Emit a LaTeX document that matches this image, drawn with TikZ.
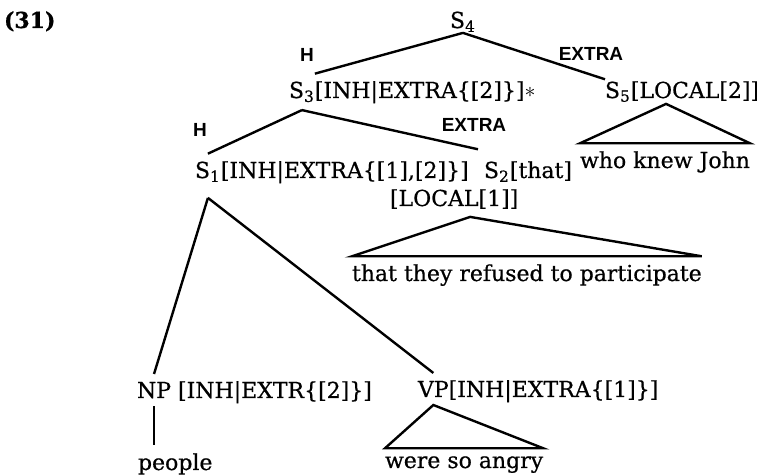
\documentclass[tikz,border=0pt]{standalone}
\usepackage{fontspec}
\setmainfont{DejaVu Serif}[FakeBold=0.6]
\setsansfont{Liberation Sans}
\usetikzlibrary{positioning}
\tikzset{every node/.style={font=\fontsize{11}{13}\selectfont}}
\colorlet{treecol}{black}

\begin{document}
\begin{tikzpicture}[x=0.5pt, y=-0.5pt,
  cat/.style={inner sep=0pt, outer xsep=0pt, outer ysep=4pt, anchor=base west},
  feat/.style={inner sep=0pt, outer sep=0pt, anchor=base west},
  arclab/.style={inner sep=0pt, font=\fontsize{9.5}{10}\selectfont\sffamily\bfseries},
  branch/.style={treecol, line width=1.2pt}]

  \useasboundingbox (0,0) rectangle (757,476);

  % Example number.
  \node[feat, font=\fontsize{11}{13}\selectfont\bfseries] (exnum) at (4,28) {(31)};

  % Root.
  \node[cat, outer ysep=0.5pt] (s4) at (450,28) {S\textsubscript{4}};

  % Head daughter S3 and extraposed S5.
  \node[cat] (s3) at (289,98) {S\textsubscript{3}};
  \node[feat] (s3f) at (s3.base east) {[INH|EXTRA\{[2]\}]$\ast$};
  \node[cat, outer ysep=1pt] (s5) at (605,98) {S\textsubscript{5}[LOCAL[2]]};
  \node[cat] (who) at (580,168) {who knew John};

  % Head daughter S1 and extraposed S2.
  \node[cat] (s1) at (195,178) {S\textsubscript{1}};
  \node[feat] (s1f) at (s1.base east) {[INH|EXTRA\{[1],[2]\}]};
  \node[cat] (s2) at (484,178) {S\textsubscript{2}[that]};
  \node[cat] (local1) at (390,206) {[LOCAL[1]]};
  \node[cat] (refused) at (352,281) {that they refused to participate};
  \coordinate (s1foot) at ([yshift=-4pt]s1.south);

  % NP and VP.
  \node[cat] (np) at (137,398) {NP};
  \node[feat] (npf) at (np.base east) {\ [INH|EXTR\{[2]\}]};
  \node[cat] (vp) at (418,397) {VP};
  \node[feat] (vpf) at (vp.base east) {[INH|EXTRA\{[1]\}]};
  \node[cat] (people) at (138,470) {people};
  \node[cat] (angry) at (385,468) {were so angry};

  % Branch labels.
  \node[arclab] (h1) at (307,55) {H};
  \node[arclab] (x1) at (591,54) {EXTRA};
  \node[arclab] (h2) at (200,130) {H};
  \node[arclab] (x2) at (474,125) {EXTRA};

  % Branches.
  \draw[branch] (s4.south) -- (s3.north east);
  \draw[branch] (s4.south) -- (s5.north west);
  \draw[branch] (s3.south) -- (s1.north);
  \draw[branch] (s3.south) -- ([xshift=-3pt, yshift=2pt]s2.north west);
  \draw[branch] (s1foot) -- (np.north);
  \draw[branch] (s1foot) -- (vp.north);
  \draw[branch] (np.south) -- (np.south |- people.north);

  % Triangles.
  \draw[branch] ([xshift=-8pt]s5.south) -- (who.north west) -- (who.north east) -- cycle;
  \draw[branch] ([xshift=8pt]local1.south) -- (refused.north west) -- (refused.north east) -- cycle;
  \draw[branch] (vp.south) -- (angry.north west) -- (angry.north east) -- cycle;

\end{tikzpicture}
\end{document}
